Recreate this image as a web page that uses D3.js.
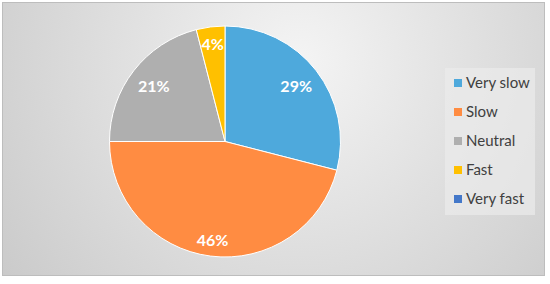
<!DOCTYPE html>
<html>
<head>
<meta charset="utf-8">
<script src="https://cdn.jsdelivr.net/npm/d3@7"></script>
<style>
  body { margin: 0; background: #ffffff; }
  svg { display: block; }
</style>
</head>
<body>
<div id="chart"></div>
<script>
// ----------------------------------------------------------
// DATA -----------------------------------------------------
// ----------------------------------------------------------
var categories = ["Very slow", "Slow", "Neutral", "Fast", "Very fast"];
var values = [29, 46, 21, 4, 0];
var colors = ["#4ea9dc", "#ff8c42", "#afafaf", "#ffc000", "#4478c9"];

// ----------------------------------------------------------
// STRUCTURE ------------------------------------------------
// ----------------------------------------------------------
var width = 550, height = 284;
var cx = 225, cy = 141.5, radius = 115.5;

var svg = d3.select("#chart").append("svg")
  .attr("width", width)
  .attr("height", height);

// background gradient
var defs = svg.append("defs");
var grad = defs.append("radialGradient")
  .attr("id", "bg_grad")
  .attr("gradientUnits", "userSpaceOnUse")
  .attr("cx", 300).attr("cy", 60).attr("r", 380);
grad.append("stop").attr("offset", "0%").attr("stop-color", "#f4f4f4");
grad.append("stop").attr("offset", "100%").attr("stop-color", "#c9c9c9");

svg.append("rect")
  .attr("x", 2.5).attr("y", 2.5)
  .attr("width", 542).attr("height", 273)
  .style("fill", "url(#bg_grad)")
  .style("stroke", "#bdbdbd")
  .style("stroke-width", 1);

// ----------------------------------------------------------
// PIE ------------------------------------------------------
// ----------------------------------------------------------
var pie = d3.pie().sort(null).value(function(d) { return d; });
var arcs = pie(values);

var arc = d3.arc().innerRadius(0).outerRadius(radius);

var pie_group = svg.append("g")
  .attr("transform", "translate(" + cx + "," + cy + ")");

pie_group.selectAll("path")
  .data(arcs)
  .enter()
  .append("path")
  .attr("d", arc)
  .style("fill", function(d, i) { return colors[i]; })
  .style("stroke", "#ffffff")
  .style("stroke-width", function(d) { return d.value > 0 ? 1 : 0; });

// labels (best fit style: slightly different distance per slice)
var label_factor = [0.78, 0.86, 0.78, 0.85, 0.8];
pie_group.selectAll("text")
  .data(arcs.filter(function(d) { return d.value > 0; }))
  .enter()
  .append("text")
  .attr("transform", function(d) {
    var r = radius * label_factor[d.index];
    var a = (d.startAngle + d.endAngle) / 2;
    return "translate(" + (Math.sin(a) * r) + "," + (-Math.cos(a) * r) + ")";
  })
  .attr("text-anchor", "middle")
  .attr("dy", "0.35em")
  .style("font-family", "Lato, 'Open Sans', sans-serif")
  .style("font-weight", "bold")
  .style("font-size", "16px")
  .style("fill", "#ffffff")
  .text(function(d) { return d.value + "%"; });

// ----------------------------------------------------------
// LEGEND ---------------------------------------------------
// ----------------------------------------------------------
var legend = svg.append("g").attr("transform", "translate(445,68)");
legend.append("rect")
  .attr("width", 90).attr("height", 147)
  .style("fill", "#ebebeb")
  .style("opacity", 0.7);

var item = legend.selectAll(".item")
  .data(categories)
  .enter()
  .append("g")
  .attr("class", "item")
  .attr("transform", function(d, i) { return "translate(9," + (15 + i * 29) + ")"; });

item.append("rect")
  .attr("x", 0).attr("y", -4)
  .attr("width", 8).attr("height", 8)
  .style("fill", function(d, i) { return colors[i]; });

item.append("text")
  .attr("x", 12)
  .attr("dy", "0.35em")
  .style("font-family", "Lato, 'Open Sans', sans-serif")
  .style("font-size", "15px")
  .style("fill", "#404040")
  .text(function(d) { return d; });
</script>
</body>
</html>
